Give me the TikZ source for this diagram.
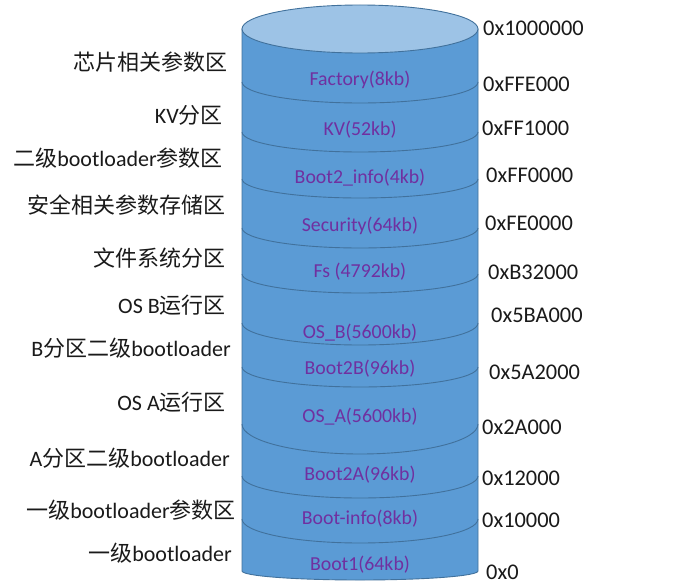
\documentclass[tikz,border=0pt]{standalone}
\usepackage{fontspec}
\setmainfont{Carlito}
\newfontfamily\cjk{Noto Sans CJK SC}
\definecolor{bodyblue}{HTML}{5B9BD5}
\definecolor{topblue}{HTML}{9DC3E6}
\definecolor{edgeblue}{HTML}{41719C}
\definecolor{segtext}{HTML}{7030A0}
\definecolor{labtext}{HTML}{1A1A1A}
\tikzset{
  outline/.style={draw=edgeblue, line width=0.9pt},
  sepline/.style={draw=edgeblue, line width=0.9pt},
  segname/.style={text=segtext, font=\fontsize{19.8}{23}\selectfont, inner sep=0pt},
  leftlab/.style={text=labtext, anchor=east, font=\fontsize{22}{26}\selectfont, inner sep=0pt},
  addrlab/.style={text=labtext, anchor=west, font=\fontsize{22.4}{26}\selectfont, inner sep=0pt}
}
\begin{document}
\begin{tikzpicture}[x=1pt,y=1pt]
\useasboundingbox (0,0) rectangle (690,-586);
\fill[white] (0,0) rectangle (690,-586);
% cylinder body
\path[outline, fill=bodyblue] (242,-29) -- (242,-571)
  arc[start angle=180, end angle=360, x radius=118, y radius=9] -- (478,-29) -- cycle;
% separators
\foreach \c/\r in {103/21,152/20,198/19,248/20,293/19,345/22,387/20,454/30,498/22,543/24}
  \draw[sepline] (242,-\c+\r) arc[start angle=180, end angle=360, x radius=118, y radius=\r];
% top
\path[outline, fill=topblue] (360,-29) ellipse[x radius=118, y radius=24];
% segment names
\node[segname] (s1) at (360,-80) {Factory(8kb)};
\node[segname] (s2) at (360,-130) {KV(52kb)};
\node[segname] (s3) at (360,-178) {Boot2\_info(4kb)};
\node[segname] (s4) at (360,-226) {Security(64kb)};
\node[segname] (s5) at (360,-272) {Fs (4792kb)};
\node[segname] (s6) at (360,-333) {OS\_B(5600kb)};
\node[segname] (s7) at (360,-369) {Boot2B(96kb)};
\node[segname] (s8) at (360,-417) {OS\_A(5600kb)};
\node[segname] (s9) at (360,-475) {Boot2A(96kb)};
\node[segname] (s10) at (360,-519) {Boot-info(8kb)};
\node[segname] (s11) at (360,-565) {Boot1(64kb)};
% left labels
\node[leftlab] (l1) at (228,-62) {\cjk 芯片相关参数区};
\node[leftlab] (l2) at (223,-115) {KV{\cjk 分区}};
\node[leftlab] (l3) at (223,-158) {{\cjk 二级}bootloader{\cjk 参数区}};
\node[leftlab] (l4) at (226,-205) {\cjk 安全相关参数存储区};
\node[leftlab] (l5) at (226,-258) {\cjk 文件系统分区};
\node[leftlab] (l6) at (226,-305) {OS B{\cjk 运行区}};
\node[leftlab] (l7) at (231,-348) {B{\cjk 分区二级}bootloader};
\node[leftlab] (l8) at (226,-402) {OS A{\cjk 运行区}};
\node[leftlab] (l9) at (230,-458) {A{\cjk 分区二级}bootloader};
\node[leftlab] (l10) at (236,-510) {{\cjk 一级}bootloader{\cjk 参数区}};
\node[leftlab] (l11) at (232,-553) {{\cjk 一级}bootloader};
% addresses
\node[addrlab] (a1) at (483,-28) {0x1000000};
\node[addrlab] (a2) at (483,-84) {0xFFE000};
\node[addrlab] (a3) at (482,-128) {0xFF1000};
\node[addrlab] (a4) at (486,-175) {0xFF0000};
\node[addrlab] (a5) at (485,-223) {0xFE0000};
\node[addrlab] (a6) at (488,-272) {0xB32000};
\node[addrlab] (a7) at (491,-315) {0x5BA000};
\node[addrlab] (a8) at (489,-372) {0x5A2000};
\node[addrlab] (a9) at (482,-427) {0x2A000};
\node[addrlab] (a10) at (482,-478) {0x12000};
\node[addrlab] (a11) at (482,-520) {0x10000};
\node[addrlab] (a12) at (486,-572) {0x0};
\end{tikzpicture}
\end{document}
